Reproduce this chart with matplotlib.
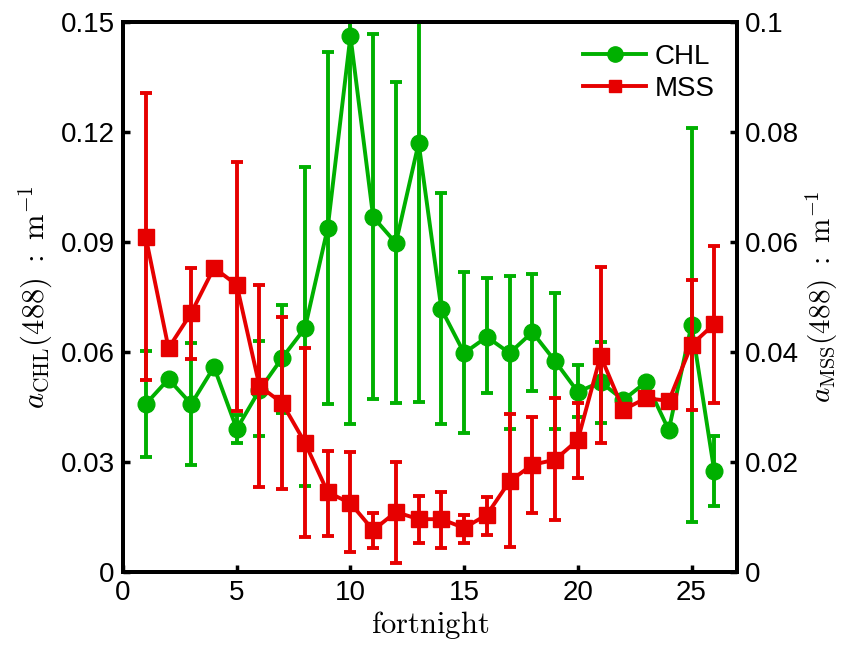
import numpy as np
import matplotlib
matplotlib.use('Agg')
import matplotlib.pyplot as plt
from matplotlib.lines import Line2D

plt.rcParams['font.family'] = ['Liberation Sans', 'DejaVu Sans']
plt.rcParams['mathtext.fontset'] = 'cm'

fortnight = np.arange(1, 27)

# CHL absorption (left axis) with lower / upper error bar ends
chl = [0.0458, 0.0526, 0.0458, 0.0559, 0.0390, 0.0496, 0.0584, 0.0665, 0.0938, 0.1462,
       0.0968, 0.0897, 0.1170, 0.0717, 0.0597, 0.0641, 0.0597, 0.0654, 0.0575, 0.0491,
       0.0518, 0.0469, 0.0518, 0.0387, 0.0674, 0.0275]
chl_lo = [0.0314, 0.0526, 0.0292, 0.0559, 0.0352, 0.0371, 0.0434, 0.0235, 0.0458, 0.0404,
          0.0472, 0.0461, 0.0464, 0.0404, 0.0379, 0.0488, 0.0390, 0.0494, 0.0390, 0.0423,
          0.0406, 0.0469, 0.0518, 0.0387, 0.0136, 0.0180]
chl_hi = [0.0603, 0.0526, 0.0624, 0.0559, 0.0428, 0.0630, 0.0728, 0.1104, 0.1418, 0.2520,
          0.1467, 0.1336, 0.1880, 0.1034, 0.0818, 0.0802, 0.0807, 0.0813, 0.0761, 0.0565,
          0.0627, 0.0469, 0.0518, 0.0387, 0.1210, 0.0371]

# MSS absorption (right axis)
mss = [0.0609, 0.0407, 0.0471, 0.0553, 0.0522, 0.0338, 0.0307, 0.0235, 0.0145, 0.0125,
       0.0076, 0.0109, 0.0096, 0.0096, 0.0080, 0.0104, 0.0165, 0.0195, 0.0204, 0.0240,
       0.0393, 0.0295, 0.0316, 0.0311, 0.0413, 0.0451]
mss_lo = [0.0349, 0.0407, 0.0387, 0.0553, 0.0293, 0.0155, 0.0151, 0.0064, 0.0065, 0.0036,
          0.0044, 0.0016, 0.0053, 0.0044, 0.0053, 0.0067, 0.0045, 0.0107, 0.0095, 0.0171,
          0.0235, 0.0295, 0.0316, 0.0311, 0.0295, 0.0307]
mss_hi = [0.0871, 0.0407, 0.0553, 0.0553, 0.0745, 0.0522, 0.0464, 0.0407, 0.0220, 0.0218,
          0.0107, 0.0200, 0.0138, 0.0145, 0.0104, 0.0136, 0.0287, 0.0282, 0.0316, 0.0307,
          0.0555, 0.0295, 0.0316, 0.0311, 0.0531, 0.0593]

green = '#00b000'
red = '#e60000'

fig = plt.figure(figsize=(8.45, 6.46), dpi=100)
ax1 = fig.add_axes([0.1456, 0.1146, 0.7266, 0.8514])
ax2 = ax1.twinx()

chl = np.array(chl)
mss = np.array(mss)
chl_err = [chl - np.array(chl_lo), np.array(chl_hi) - chl]
mss_err = [mss - np.array(mss_lo), np.array(mss_hi) - mss]

lw = 2.8
ax1.errorbar(fortnight, chl, yerr=chl_err, color=green, lw=lw, marker='o', ms=12,
             capsize=4.5, capthick=lw, elinewidth=lw)
ax2.errorbar(fortnight, mss, yerr=mss_err, color=red, lw=lw, marker='s', ms=11,
             capsize=4.5, capthick=lw, elinewidth=lw)

ax1.set_xlim(0, 27)
ax1.set_ylim(0, 0.15)
ax2.set_ylim(0, 0.1)
ax1.set_xticks([0, 5, 10, 15, 20, 25])
ax1.set_yticks([0, 0.03, 0.06, 0.09, 0.12, 0.15])
ax1.set_yticklabels(['0', '0.03', '0.06', '0.09', '0.12', '0.15'])
ax2.set_yticks([0, 0.02, 0.04, 0.06, 0.08, 0.1])
ax2.set_yticklabels(['0', '0.02', '0.04', '0.06', '0.08', '0.1'])

for ax in (ax1, ax2):
    for s in ax.spines.values():
        s.set_linewidth(2.8)
    ax.tick_params(direction='in', length=5, width=2.5, labelsize=20, pad=6)

ax1.set_xlabel(r'$\mathrm{fortnight}$', fontsize=22, labelpad=2)
ax1.set_ylabel(r'$a_{\rm CHL}(488)\ :\ {\rm m}^{-1}$', fontsize=22, labelpad=4)
ax2.set_ylabel(r'$a_{\rm MSS}(488)\ :\ {\rm m}^{-1}$', fontsize=21, labelpad=3)

handles = [Line2D([], [], color=green, lw=lw, marker='o', ms=11),
           Line2D([], [], color=red, lw=lw, marker='s', ms=9)]
ax2.legend(handles, ['CHL', 'MSS'], loc='upper right', frameon=False, fontsize=20,
           handlelength=2.3, handletextpad=0.3, labelspacing=0.2,
           bbox_to_anchor=(1.0, 1.0), borderaxespad=0.4)

plt.savefig('out.png', dpi=100)
